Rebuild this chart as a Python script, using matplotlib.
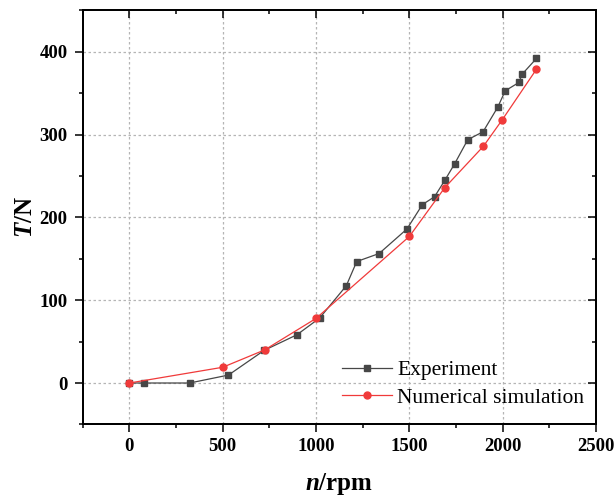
import matplotlib
matplotlib.use("Agg")
import matplotlib.pyplot as plt

# Data
exp_n = [0, 80, 323, 531, 722, 898, 1019, 1162, 1218, 1338, 1487, 1570, 1635,
         1690, 1742, 1813, 1895, 1973, 2014, 2087, 2103, 2181]
exp_T = [0, 0, 0, 9.6, 39.4, 58.3, 78.4, 117.4, 146.7, 156.4, 186, 215.5, 225,
         244.8, 264.5, 293.9, 303.5, 332.9, 353, 363, 372.7, 392]
sim_n = [0, 500, 725, 1000, 1500, 1690, 1897, 1998, 2181]
sim_T = [0, 19, 40, 78, 177, 236, 286, 318, 379]

x_ticks = [0, 500, 1000, 1500, 2000, 2500]
y_ticks = [0, 100, 200, 300, 400]
x_minor = [-250, 250, 750, 1250, 1750, 2250]
y_minor = [-50, 50, 150, 250, 350, 450]

plt.rcParams['font.family'] = ['Liberation Serif', 'DejaVu Serif']
plt.rcParams['mathtext.fontset'] = 'custom'
plt.rcParams['mathtext.it'] = 'Liberation Serif:italic:bold'
plt.rcParams['mathtext.rm'] = 'Liberation Serif:bold'

fig = plt.figure(figsize=(6.16, 4.98), dpi=100)
ax = fig.add_axes([0.1343, 0.1478, 0.9675 - 0.1343, 0.979 - 0.1478])

ax.plot(exp_n, exp_T, color='#474747', marker='s', markersize=4.5, lw=0.9,
        label='Experiment', zorder=3)
ax.plot(sim_n, sim_T, color='#f03a3a', marker='o', markersize=5, lw=0.9,
        label='Numerical simulation', zorder=4)

ax.set_xlim(-250, 2500)
ax.set_ylim(-50, 450)
ax.set_xticks(x_ticks)
ax.set_yticks(y_ticks)
ax.set_xticks(x_minor, minor=True)
ax.set_yticks(y_minor, minor=True)

ax.grid(True, which='major', color='#b5b5b5', linestyle=(0, (2, 2)), lw=0.9)
ax.set_axisbelow(True)

for lab in ax.get_xticklabels() + ax.get_yticklabels():
    lab.set_fontweight('bold')
    lab.set_fontsize(13.5)

ax.tick_params(which='major', direction='out', length=6, width=1.1)
ax.tick_params(axis='y', which='major', pad=5)
ax.tick_params(axis='x', which='major', pad=4)
ax.tick_params(which='minor', direction='out', length=3, width=1.1)
for s in ax.spines.values():
    s.set_linewidth(1.2)

# mirrored inward ticks on top/right
axr = ax.twinx()
axr.set_ylim(ax.get_ylim())
axr.set_yticks(y_ticks)
axr.set_yticks(y_minor, minor=True)
axr.tick_params(which='major', direction='in', length=6, width=1.1, labelright=False)
axr.tick_params(which='minor', direction='in', length=3, width=1.1)
axt = ax.twiny()
axt.set_xlim(ax.get_xlim())
axt.set_xticks(x_ticks)
axt.set_xticks(x_minor, minor=True)
axt.tick_params(which='major', direction='in', length=6, width=1.1, labeltop=False)
axt.tick_params(which='minor', direction='in', length=3, width=1.1)
for a in (axr, axt):
    for s in a.spines.values():
        s.set_linewidth(1.2)

ax.set_xlabel(r'$\mathit{n}$/rpm', fontsize=18, fontweight='bold', labelpad=11)
ax.set_ylabel(r'$\mathit{T}$/N', fontsize=18, fontweight='bold', labelpad=2)

leg = ax.legend(loc='lower right', bbox_to_anchor=(1.0, 0.012), frameon=False,
                fontsize=15.5, handlelength=2.3, handletextpad=0.25,
                labelspacing=0.34, borderaxespad=0.15)

fig.savefig('out.png', dpi=100)
